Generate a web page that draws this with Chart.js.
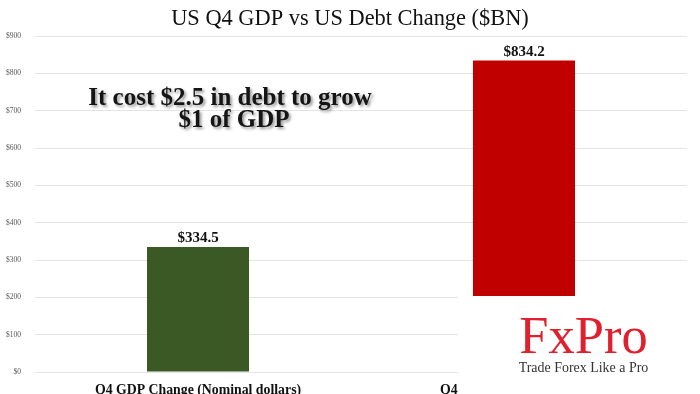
<!DOCTYPE html>
<html>
<head>
<meta charset="utf-8">
<script src="https://cdn.jsdelivr.net/npm/chart.js@4"></script>
<style>
  html, body { margin: 0; padding: 0; background: #fff; }
  #wrap { width: 700px; height: 394px; }
</style>
</head>
<body>
<div id="wrap"><canvas id="debtChart" width="700" height="394"></canvas></div>
<script>
// values ($BN)
const categories = ['Q4 GDP Change (Nominal dollars)', 'Q4 Change in Total US Debt'];
const changeValues = [334.5, 834.2];
const barColors = ['#3b5924', '#c00000'];
const tickValues = [0, 100, 200, 300, 400, 500, 600, 700, 800, 900];
const chartTitle = 'US Q4 GDP vs US Debt Change ($BN)';
const noteLines = ['It cost $2.5 in debt to grow', '$1 of GDP'];

const serif = '"Liberation Serif", "DejaVu Serif", serif';

// title, value labels, note and the logo box are drawn by hand
const extrasPlugin = {
    id: 'extras',
    afterDatasetsDraw(chart) {
        const ctx = chart.ctx;
        const meta = chart.getDatasetMeta(0);
        ctx.save();
        // value labels above each bar
        ctx.fillStyle = '#111';
        ctx.font = 'bold 15px ' + serif;
        ctx.textAlign = 'center';
        ctx.textBaseline = 'alphabetic';
        meta.data.forEach((bar, i) => {
            ctx.fillText('$' + changeValues[i].toFixed(1), bar.x, bar.y - 5);
        });

        // title
        ctx.font = '22.4px ' + serif;
        ctx.fillStyle = '#111';
        ctx.fillText(chartTitle, 350, 25);

        // note with soft shadow
        ctx.font = 'bold 24.5px ' + serif;
        ctx.shadowColor = 'rgba(0,0,0,0.4)';
        ctx.shadowOffsetX = 2;
        ctx.shadowOffsetY = 2;
        ctx.shadowBlur = 3;
        ctx.fillStyle = '#151515';
        ctx.save();
        ctx.translate(230, 105);
        ctx.scale(1.02, 1);
        ctx.fillText(noteLines[0], 0, 0);
        ctx.restore();
        ctx.save();
        ctx.translate(234, 127);
        ctx.scale(1.02, 1);
        ctx.fillText(noteLines[1], 0, 0);
        ctx.restore();
        ctx.restore();
    },
    afterDraw(chart) {
        const ctx = chart.ctx;
        ctx.save();
        // logo box covering the lower right corner
        ctx.fillStyle = '#fff';
        ctx.fillRect(458, 296, 242, 98);
        ctx.textAlign = 'center';
        ctx.fillStyle = '#e0202e';
        ctx.font = '53px ' + serif;
        ctx.save();
        ctx.translate(583.5, 353);
        ctx.scale(0.99, 1);
        ctx.fillText('FxPro', 0, 0);
        ctx.restore();
        ctx.fillStyle = '#333';
        ctx.font = '15px ' + serif;
        ctx.save();
        ctx.translate(583.5, 372);
        ctx.scale(0.93, 1);
        ctx.fillText('Trade Forex Like a Pro', 0, 0);
        ctx.restore();
        ctx.restore();
    }
};

new Chart(document.getElementById('debtChart'), {
    type: 'bar',
    data: {
        labels: categories,
        datasets: [{
            data: changeValues,
            backgroundColor: barColors,
            borderWidth: 0,
            categoryPercentage: 1,
            barPercentage: 0.313
        }]
    },
    options: {
        responsive: false,
        animation: false,
        layout: { padding: { top: 36, right: 13, left: 0, bottom: 0 } },
        plugins: {
            legend: { display: false },
            title: { display: false },
            tooltip: { enabled: false }
        },
        scales: {
            x: {
                grid: { display: false },
                border: { display: false },
                ticks: {
                    color: '#111',
                    font: { family: serif, size: 13.8, weight: 'bold' },
                    padding: 2,
                    maxRotation: 0
                },
                afterFit: s => { s.height = 22; }
            },
            y: {
                min: 0,
                max: 900,
                afterBuildTicks: s => { s.ticks = tickValues.map(v => ({ value: v })); },
                grid: { color: '#e4e4e4', lineWidth: 1, drawTicks: false },
                border: { display: false },
                ticks: {
                    color: '#555',
                    font: { family: serif, size: 7.5 },
                    padding: 14,
                    callback: v => '$' + v
                },
                afterFit: s => { s.width = 35; }
            }
        }
    },
    plugins: [extrasPlugin]
});
</script>
</body>
</html>
